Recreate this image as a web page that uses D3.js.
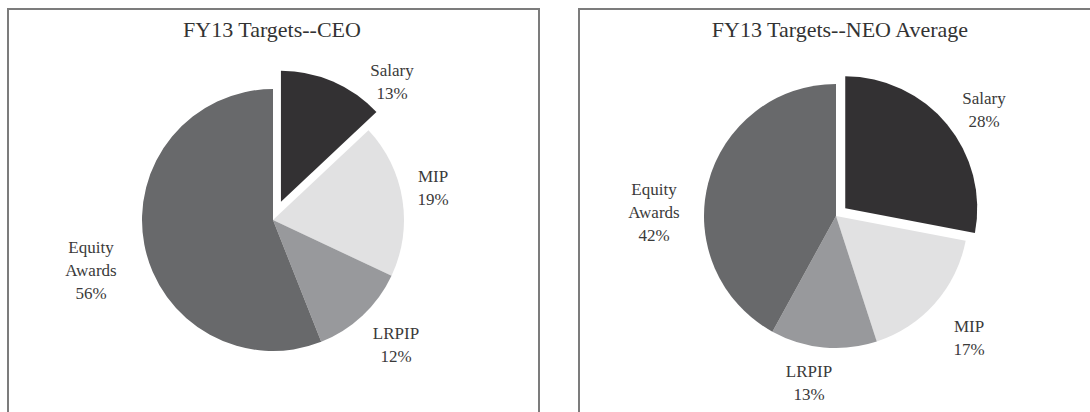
<!DOCTYPE html>
<html><head><meta charset="utf-8">
<script src="https://cdn.jsdelivr.net/npm/d3@7"></script>
<style>html,body{margin:0;padding:0;background:#fff;}svg{display:block;} text{font-family:"Liberation Serif","DejaVu Serif",serif;}</style>
</head><body>
<svg id="c" width="1090" height="412"></svg>
<script>
// ---- data ----
const categories = ["Salary", "MIP", "LRPIP", "Equity Awards"];
const ceoValues = [13, 19, 12, 56];
const neoValues = [28, 17, 13, 42];
const titles = ["FY13 Targets--CEO", "FY13 Targets--NEO Average"];
const colors = ["#333133", "#e1e1e2", "#98999c", "#68696b"];

// ---- layout ----
const panels = [
  {x: 8, y: 9, w: 531, cx: 273, cy: 220, r: 131, explode: 20, titleX: 272,
   labelPos: [[119, -138], [160, -32], [123, 125], [-182, 51]]},
  {x: 579, y: 9, w: 540, cx: 836, cy: 216, r: 132, explode: 12, titleX: 840,
   labelPos: [[148, -106], [133, 122], [-27, 167], [-182, -3]]}
];
const seriesList = [ceoValues, neoValues];

const svg = d3.select("#c");

panels.forEach((p, pi) => {
  const values = seriesList[pi];
  svg.append("rect").attr("x", p.x).attr("y", p.y).attr("width", p.w).attr("height", 420)
    .attr("fill", "none").attr("stroke", "#7c7c7c").attr("stroke-width", 2);
  svg.append("text").attr("x", p.titleX).attr("y", 37).attr("text-anchor", "middle")
    .style("font-size", "22px").attr("fill", "#333")
    .text(titles[pi]);

  const pie = d3.pie().sort(null).value(d => d)(values);
  const arc = d3.arc().innerRadius(0).outerRadius(p.r);
  const g = svg.append("g").attr("transform", `translate(${p.cx},${p.cy})`);
  g.selectAll("path").data(pie).join("path")
    .attr("d", arc)
    .attr("fill", (d, i) => colors[i])
    .attr("transform", (d, i) => {
      if (i !== 0) return null;
      const a = (d.startAngle + d.endAngle) / 2;
      return `translate(${Math.sin(a) * p.explode},${-Math.cos(a) * p.explode})`;
    });

  pie.forEach((d, i) => {
    const lines = categories[i].split(" ").concat([values[i] + "%"]);
    const [lx, ly] = p.labelPos[i];
    const lh = 23;
    const t = g.append("text").attr("text-anchor", "middle")
      .style("font-size", "17px").attr("fill", "#3a3a3a");
    lines.forEach((ln, k) => {
      t.append("tspan").attr("x", lx)
        .attr("y", ly + (k - (lines.length - 1) / 2) * lh + 5)
        .text(ln);
    });
  });
});
</script>
</body></html>
